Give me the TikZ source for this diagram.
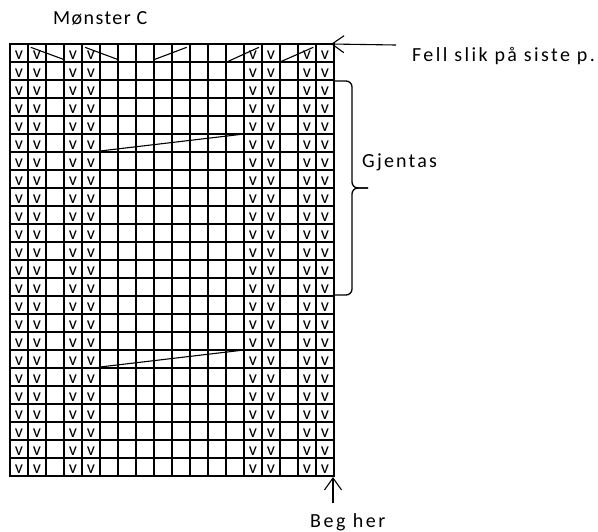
\documentclass[tikz,border=0pt]{standalone}
\usepackage{fontspec}
\setmainfont{Carlito}
\usetikzlibrary{arrows.meta, positioning}

\begin{document}
\begin{tikzpicture}[
    x=1pt, y=-1pt,
    gridline/.style={line width=1.8pt, line cap=rect},
    stitch/.style={inner sep=0pt, anchor=base, font=\fontsize{18}{18}\selectfont},
    lbl/.style={inner sep=0pt, anchor=base west},
    dec/.style={line width=1.1pt},
    arr/.style={-{Straight Barb[length=12pt, width=17pt]}, line width=1.1pt}
]
\useasboundingbox (0,0) rectangle (598,531);

% chart grid: 18 columns, 24 rows
\foreach \c in {0,...,18}
    \draw[gridline] ({10+18*\c},44) -- ({10+18*\c},476);
\foreach \r in {0,...,24}
    \draw[gridline] (10,{44+18*\r}) -- (334,{44+18*\r});

% stitches
\foreach \r in {0,...,23}
    \foreach \c in {1,2,4,5,14,15,17,18}
        \node[stitch] (v-\r-\c) at ({1+18*\c}, {59+18*\r}) {v};

% decreases on the top row
\draw[dec] (30.7,47.3) -- (63.3,59.3);
\draw[dec] (85,47.3) -- (117.3,59.3);
\draw[dec] (155,59.3) -- (186.7,47.3);
\draw[dec] (226.7,62) -- (259,47.3);
\draw[dec] (280,62) -- (313.3,47.3);

% long strokes
\draw[dec] (100,151) -- (244,134);
\draw[dec] (100,367) -- (244,350);

% labels
\node[lbl, font=\fontsize{20}{22}\selectfont\addfontfeature{LetterSpace=7}] (title) at (53,24) {Mønster C};
\node[lbl, font=\fontsize{20}{22}\selectfont\addfontfeature{LetterSpace=12}] (fell) at (412,61) {Fell slik på siste p.};
\node[lbl, font=\fontsize{20}{22}\selectfont\addfontfeature{LetterSpace=11}] (gjentas) at (362,167) {Gjentas};
\node[lbl, font=\fontsize{20}{22}\selectfont\addfontfeature{LetterSpace=13}] (beg) at (310,527) {Beg her};

% arrows
\coordinate (felltail) at (396,45);
\coordinate (topcorner) at (331,44);
\draw[arr] (felltail) -- (topcorner);
\coordinate (begtail) at (333,503);
\coordinate (botcorner) at (333,477);
\draw[arr] (begtail) -- (botcorner);

% brace
\draw[line width=1.3pt, rounded corners=6pt] (334,81) -- (352,81) -- (352,188) -- (368,188);
\draw[line width=1.3pt, rounded corners=6pt] (334,295) -- (352,295) -- (352,188) -- (368,188);
\end{tikzpicture}
\end{document}
